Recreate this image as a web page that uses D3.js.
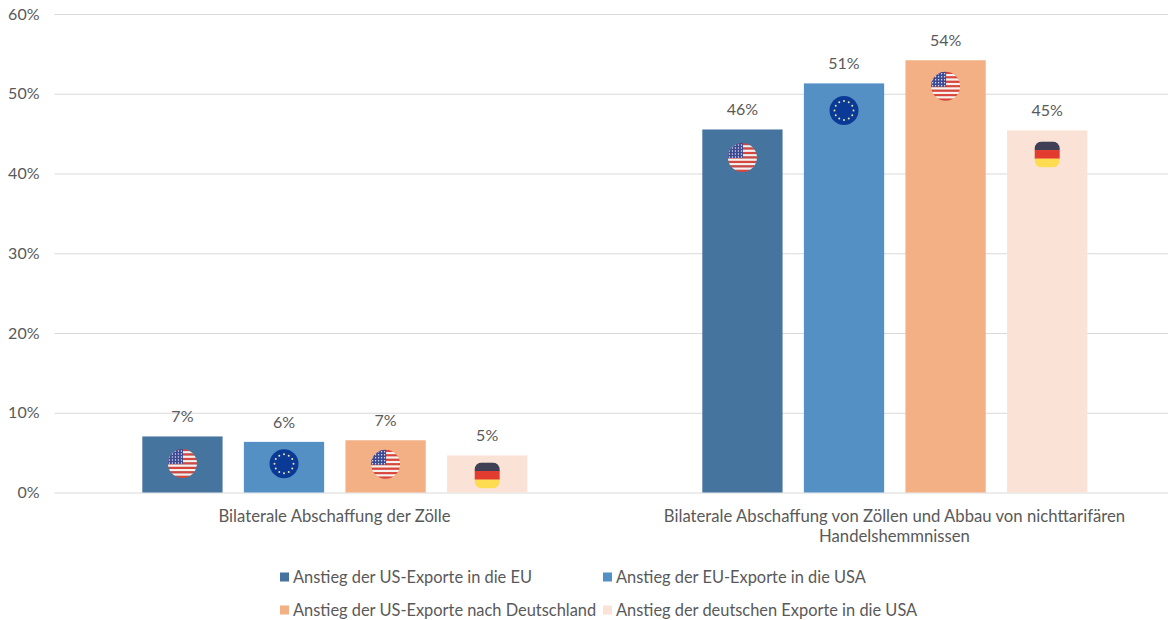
<!DOCTYPE html>
<html lang="de">
<head>
<meta charset="utf-8">
<title>Exportanstieg</title>
<script src="https://cdn.jsdelivr.net/npm/d3@7/dist/d3.min.js"></script>
<style>
  html, body { margin: 0; padding: 0; background: #fff; }
  svg { display: block; }
  text { font-family: Lato, "Open Sans", sans-serif; fill: #595959; }
</style>
</head>
<body>
<svg id="chart" width="1168" height="620"></svg>
<script>
// Chart content
const scenarios = [
  ["Bilaterale Abschaffung der Zölle"],
  ["Bilaterale Abschaffung von Zöllen und Abbau von nichttarifären", "Handelshemmnissen"]
];
const seriesNames = [
  "Anstieg der US-Exporte in die EU",
  "Anstieg der EU-Exporte in die USA",
  "Anstieg der US-Exporte nach Deutschland",
  "Anstieg der deutschen Exporte in die USA"
];
const usExportsToEu = [0.0703, 0.4552];
const euExportsToUsa = [0.0635, 0.5130];
const usExportsToGermany = [0.0655, 0.5420];
const germanExportsToUsa = [0.0465, 0.4540];
const seriesValues = [usExportsToEu, euExportsToUsa, usExportsToGermany, germanExportsToUsa];
const seriesFlags = ["us", "eu", "us", "de"];
const yTicks = [0, 0.1, 0.2, 0.3, 0.4, 0.5, 0.6];

// Styling
const seriesColors = ["#45759f", "#5590c5", "#f2b084", "#fae3d6"];
const flagDrop = [[27, 28], [22, 27], [24, 26], [20, 24]]; // badge centre below bar top, per series and scenario

const svg = d3.select("#chart");
const plot = { left: 54.5, right: 1174.5, top: 14, bottom: 492.5 };

const y = d3.scaleLinear().domain([0, 0.6]).range([plot.bottom, plot.top]);
const x0 = d3.scaleBand().domain(d3.range(scenarios.length)).range([plot.left, plot.right]);
const x1 = d3.scaleBand().domain(d3.range(seriesNames.length)).range([87.8, 472.8]).paddingInner(0.21);
const pct = d3.format(".0%");

// Grid lines and y axis
const yAxis = d3.axisLeft(y).tickValues(yTicks).tickFormat(pct)
  .tickSize(plot.left - 1168).tickPadding(16);
const yG = svg.append("g").attr("transform", `translate(${plot.left},0)`).call(yAxis);
yG.select(".domain").remove();
yG.selectAll(".tick line").attr("stroke", "#d9d9d9").attr("stroke-width", 1);
yG.selectAll(".tick text").attr("font-size", 16).style("fill", "#595959")
  .attr("text-anchor", "end").attr("x", -15);

// Shared clip paths for the flag badges
const defs = svg.append("defs");
defs.append("clipPath").attr("id", "clip-round").append("circle").attr("r", 14.5);
defs.append("clipPath").attr("id", "clip-square").append("rect")
  .attr("x", -12.5).attr("y", -13).attr("width", 25).attr("height", 26).attr("rx", 7);

function drawUs(g) {
  const inner = g.append("g").attr("clip-path", "url(#clip-round)");
  const stripe = 29 / 13;
  d3.range(13).forEach(i => inner.append("rect")
    .attr("x", -15).attr("y", -14.5 + i * stripe)
    .attr("width", 30).attr("height", stripe + 0.2)
    .attr("fill", i % 2 ? "#f4f1ee" : "#d8453c"));
  inner.append("rect").attr("x", -15).attr("y", -15)
    .attr("width", 15.5).attr("height", 15.5).attr("fill", "#3d4a94");
  d3.range(5).forEach(r => d3.range(5).forEach(c => inner.append("circle")
    .attr("cx", -13 + c * 3).attr("cy", -12.5 + r * 3)
    .attr("r", 0.7).attr("fill", "#e8e8f2")));
}

function drawEu(g) {
  g.append("circle").attr("r", 14.5).attr("fill", "#0b3a96");
  d3.range(12).forEach(i => {
    const a = i * Math.PI / 6;
    g.append("circle").attr("cx", 9.5 * Math.cos(a)).attr("cy", 9.5 * Math.sin(a))
      .attr("r", 1).attr("fill", "#e7e3a8");
  });
}

function drawDe(g) {
  const inner = g.append("g").attr("clip-path", "url(#clip-square)");
  [["#3f4055", -13], ["#e23b30", -4.4], ["#fddc52", 4.2]].forEach(([c, top]) =>
    inner.append("rect").attr("x", -13).attr("y", top)
      .attr("width", 26).attr("height", 8.8).attr("fill", c));
}
const flagPainters = { us: drawUs, eu: drawEu, de: drawDe };

// Bars, value labels and flag badges
seriesValues.forEach((vals, s) => {
  const g = svg.append("g");
  vals.forEach((v, c) => {
    const bx = x0(c) + x1(s);
    const cx = bx + x1.bandwidth() / 2;
    g.append("rect")
      .attr("x", bx).attr("y", y(v))
      .attr("width", x1.bandwidth()).attr("height", y(0) - y(v))
      .attr("fill", seriesColors[s]);
    g.append("text")
      .attr("x", cx).attr("y", y(v) - 14)
      .attr("text-anchor", "middle").attr("font-size", 16)
      .text(pct(v));
    const badge = g.append("g")
      .attr("transform", `translate(${cx},${y(v) + flagDrop[s][c]})`);
    flagPainters[seriesFlags[s]](badge);
  });
});

// Scenario labels under the axis
scenarios.forEach((lines, c) => {
  lines.forEach((line, i) => {
    svg.append("text")
      .attr("x", x0(c) + x0.bandwidth() / 2)
      .attr("y", 522 + i * 20)
      .attr("text-anchor", "middle").attr("font-size", 16.7)
      .text(line);
  });
});

// Legend, two rows by two columns
const legendCols = [280, 603];
const legendRows = [577, 610];
seriesNames.forEach((name, i) => {
  const lx = legendCols[i % 2], ly = legendRows[Math.floor(i / 2)];
  svg.append("rect").attr("x", lx).attr("y", ly - 4.5)
    .attr("width", 9).attr("height", 9).attr("fill", seriesColors[i]);
  svg.append("text").attr("x", lx + 13).attr("y", ly + 5.5)
    .attr("font-size", 16.4).text(name);
});
</script>
</body>
</html>
